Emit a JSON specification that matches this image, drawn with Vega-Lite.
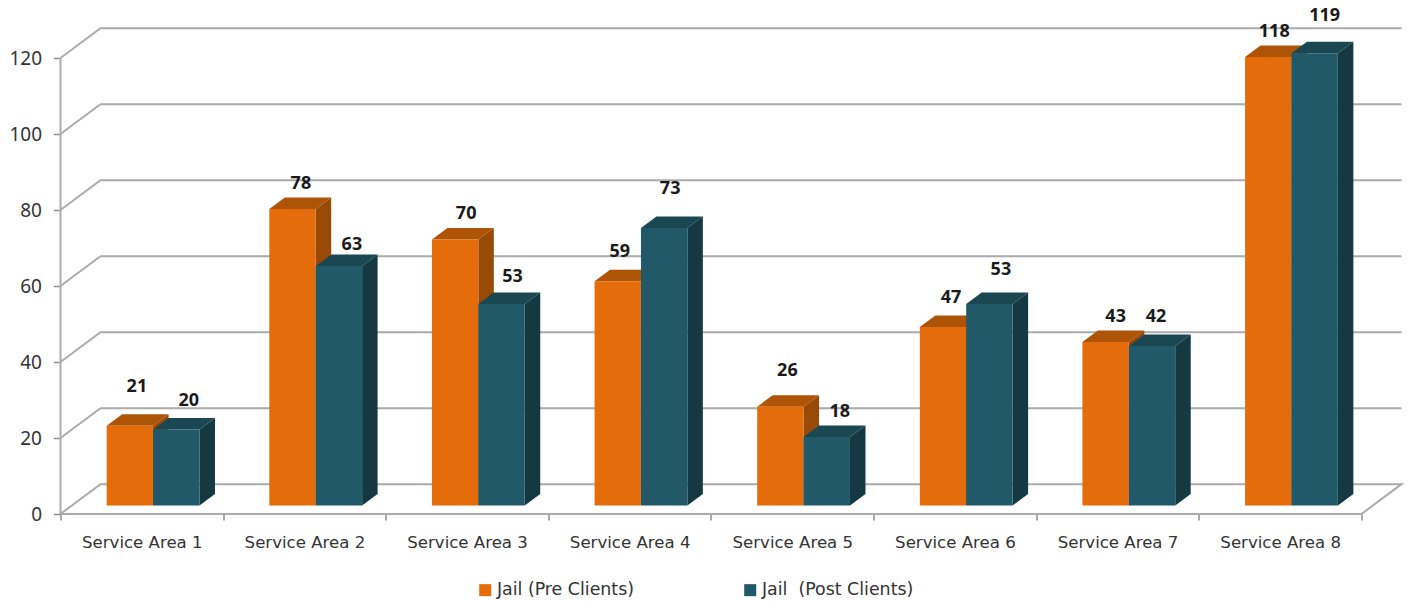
{
  "$schema": "https://vega.github.io/schema/vega-lite/v6.json",
  "autosize": "none",
  "padding": {"left": 60.5, "top": 28, "right": 8.5, "bottom": 87},
  "width": 1341,
  "height": 486,
  "background": "#ffffff",
  "config": {
    "view": {"stroke": null},
    "font": "Noto Sans",
    "axis": {"labelColor": "#333333", "tickColor": "#8c8c8c", "tickWidth": 1.5, "grid": false, "domain": false}
  },
  "datasets": {
    "walls": [{"v": 0}, {"v": 20}, {"v": 40}, {"v": 60}, {"v": 80}, {"v": 100}, {"v": 120}],
    "clients": [
      {"area": "Service Area 1", "series": "Jail (Pre Clients)", "value": 21},
      {"area": "Service Area 1", "series": "Jail \u00a0(Post Clients)", "value": 20},
      {"area": "Service Area 2", "series": "Jail (Pre Clients)", "value": 78},
      {"area": "Service Area 2", "series": "Jail \u00a0(Post Clients)", "value": 63},
      {"area": "Service Area 3", "series": "Jail (Pre Clients)", "value": 70},
      {"area": "Service Area 3", "series": "Jail \u00a0(Post Clients)", "value": 53},
      {"area": "Service Area 4", "series": "Jail (Pre Clients)", "value": 59},
      {"area": "Service Area 4", "series": "Jail \u00a0(Post Clients)", "value": 73},
      {"area": "Service Area 5", "series": "Jail (Pre Clients)", "value": 26},
      {"area": "Service Area 5", "series": "Jail \u00a0(Post Clients)", "value": 18},
      {"area": "Service Area 6", "series": "Jail (Pre Clients)", "value": 47},
      {"area": "Service Area 6", "series": "Jail \u00a0(Post Clients)", "value": 53},
      {"area": "Service Area 7", "series": "Jail (Pre Clients)", "value": 43},
      {"area": "Service Area 7", "series": "Jail \u00a0(Post Clients)", "value": 42},
      {"area": "Service Area 8", "series": "Jail (Pre Clients)", "value": 118},
      {"area": "Service Area 8", "series": "Jail \u00a0(Post Clients)", "value": 119}
    ]
  },
  "layer": [
    {
      "description": "Back wall and floor: each gridline runs in from the front plane, then along the wall; the zero line closes the floor.",
      "data": {"name": "walls"},
      "transform": [
        {"calculate": "datum.v == 0 ? [0, 1, 2, 3, 4] : [0, 1, 2]", "as": "t"},
        {"flatten": ["t"]},
        {"calculate": "[0, 0.246, 8.246, 8, 0][datum.t]", "as": "wx"},
        {"calculate": "datum.v + [0, 7.85, 7.85, 0, 0][datum.t]", "as": "wy"}
      ],
      "mark": {"type": "line", "color": "#ababab", "strokeWidth": 2, "interpolate": "linear"},
      "encoding": {
        "x": {
          "field": "wx", "type": "quantitative",
          "title": null,
          "scale": {"domain": [0, 8.246], "nice": false, "zero": false},
          "axis": {
            "values": [0, 0.5, 1, 1.5, 2, 2.5, 3, 3.5, 4, 4.5, 5, 5.5, 6, 6.5, 7, 7.5, 8],
            "labelExpr": "datum.value % 1 == 0 ? '' : 'Service Area ' + ceil(datum.value)",
            "tickOpacity": {"condition": {"test": "datum.value % 1 != 0", "value": 0}, "value": 1},
            "tickSize": 6,
            "labelFont": "DejaVu Sans",
            "labelFontSize": 16.6,
            "labelPadding": 14,
            "labelOverlap": false,
            "labelFlush": false
          }
        },
        "y": {
          "field": "wy", "type": "quantitative",
          "title": null,
          "scale": {"domain": [0, 127.9], "nice": false, "zero": false},
          "axis": {
            "values": [0, 20, 40, 60, 80, 100, 120],
            "tickSize": 7,
            "labelFont": "Noto Sans",
            "labelFontSize": 19,
            "labelPadding": 12
          }
        },
        "detail": {"field": "v"},
        "order": {"field": "t", "type": "quantitative"}
      }
    },
    {
      "description": "Vertical axis line, stopping at the top tick.",
      "data": {"name": "walls"},
      "transform": [{"filter": "datum.v == 120"}],
      "mark": {"type": "rule", "color": "#ababab", "strokeWidth": 2},
      "encoding": {
        "x": {"datum": 0, "type": "quantitative", "title": null, "scale": {"domain": [0, 8.246], "nice": false, "zero": false}},
        "y": {"field": "v", "type": "quantitative", "title": null, "scale": {"domain": [0, 127.9], "nice": false, "zero": false}},
        "y2": {"datum": 0}
      }
    },
    {
      "description": "Bars: box geometry in axis units, derived from each value. Faces are drawn side, top, front so nearer faces cover farther ones.",
      "data": {"name": "clients"},
      "transform": [
        {"calculate": "toNumber(slice(datum.area, -1)) - 1", "as": "i"},
        {"calculate": "indexof(datum.series, 'Pre') >= 0 ? 0 : 1", "as": "s"},
        {"calculate": "datum.i + 0.284 + 0.2853 * datum.s", "as": "x0"},
        {"calculate": "datum.x0 + 0.2853", "as": "x1"},
        {"calculate": "datum.value + 2.24", "as": "top"}
      ],
      "layer": [
        {
          "transform": [
            {"calculate": "[0, 1]", "as": "t"},
            {"flatten": ["t"]},
            {"calculate": "datum.x1 + datum.t * 0.0953", "as": "sx"},
            {"calculate": "datum.top + datum.t * 3.03", "as": "sy"},
            {"calculate": "2.24 + datum.t * 3.03", "as": "sy2"}
          ],
          "mark": {"type": "area", "orient": "vertical", "line": false},
          "encoding": {
            "x": {"field": "sx", "type": "quantitative", "title": null, "scale": {"domain": [0, 8.246], "nice": false, "zero": false}},
            "y": {"field": "sy", "type": "quantitative", "title": null, "scale": {"domain": [0, 127.9], "nice": false, "zero": false}},
            "y2": {"field": "sy2"},
            "detail": {"field": "area"},
            "color": {
              "field": "series", "type": "nominal", "legend": null,
              "scale": {"domain": ["Jail (Pre Clients)", "Jail \u00a0(Post Clients)"], "range": ["#984a06", "#153942"]}
            }
          }
        },
        {
          "transform": [
            {"calculate": "[0, 1]", "as": "t"},
            {"flatten": ["t"]},
            {"calculate": "datum.x0 + datum.t * 0.0953", "as": "tx"},
            {"calculate": "datum.x1 + datum.t * 0.0953", "as": "tx2"},
            {"calculate": "datum.top + datum.t * 3.03", "as": "ty"}
          ],
          "mark": {"type": "area", "orient": "horizontal", "line": false},
          "encoding": {
            "y": {"field": "ty", "type": "quantitative", "title": null, "scale": {"domain": [0, 127.9], "nice": false, "zero": false}},
            "x": {"field": "tx", "type": "quantitative", "title": null, "scale": {"domain": [0, 8.246], "nice": false, "zero": false}},
            "x2": {"field": "tx2"},
            "detail": {"field": "area"},
            "color": {
              "field": "series", "type": "nominal", "legend": null,
              "scale": {"domain": ["Jail (Pre Clients)", "Jail \u00a0(Post Clients)"], "range": ["#ae5406", "#1b4753"]}
            }
          }
        },
        {
          "mark": {"type": "rect"},
          "encoding": {
            "x": {"field": "x0", "type": "quantitative", "title": null, "scale": {"domain": [0, 8.246], "nice": false, "zero": false}},
            "x2": {"field": "x1"},
            "y": {"field": "top", "type": "quantitative", "title": null, "scale": {"domain": [0, 127.9], "nice": false, "zero": false}},
            "y2": {"datum": 2.24},
            "color": {
              "field": "series", "type": "nominal",
              "scale": {"domain": ["Jail (Pre Clients)", "Jail \u00a0(Post Clients)"], "range": ["#e46c0a", "#215968"]},
              "legend": {
                "title": null,
                "orient": "none",
                "direction": "horizontal",
                "legendX": 416,
                "legendY": 553,
                "symbolType": "square",
                "symbolSize": 144,
                "symbolStrokeWidth": 0,
                "labelFont": "DejaVu Sans",
                "labelFontSize": 17.4,
                "labelColor": "#333333",
                "labelOffset": 3,
                "columnPadding": 107,
                "labelLimit": 300
              }
            }
          }
        },
        {
          "description": "Value labels; the arrays hold each label's hand-placed nudge from its bar.",
          "transform": [
            {"calculate": "datum.i * 2 + datum.s", "as": "k"},
            {"calculate": "datum.x0 + 0.1427 + [7, 12.5, 8.4, 13, 11, 11, 2, 6, 7, 13, 8, 11.5, 10, 4, 6, 10][datum.k] / 162.6", "as": "lx"},
            {"calculate": "datum.top + [39.7, 29.5, 26, 22, 26.5, 28, 30, 40, 36.7, 26, 30, 35, 26, 30, 26, 38][datum.k] / 3.8", "as": "ly"}
          ],
          "mark": {"type": "text", "font": "Noto Sans", "fontWeight": "bold", "fontSize": 18, "color": "#1a1a1a", "baseline": "middle", "align": "center", "dy": 1},
          "encoding": {
            "x": {"field": "lx", "type": "quantitative", "title": null, "scale": {"domain": [0, 8.246], "nice": false, "zero": false}},
            "y": {"field": "ly", "type": "quantitative", "title": null, "scale": {"domain": [0, 127.9], "nice": false, "zero": false}},
            "text": {"field": "value", "type": "quantitative"}
          }
        }
      ],
      "resolve": {"scale": {"color": "independent"}}
    }
  ]
}
